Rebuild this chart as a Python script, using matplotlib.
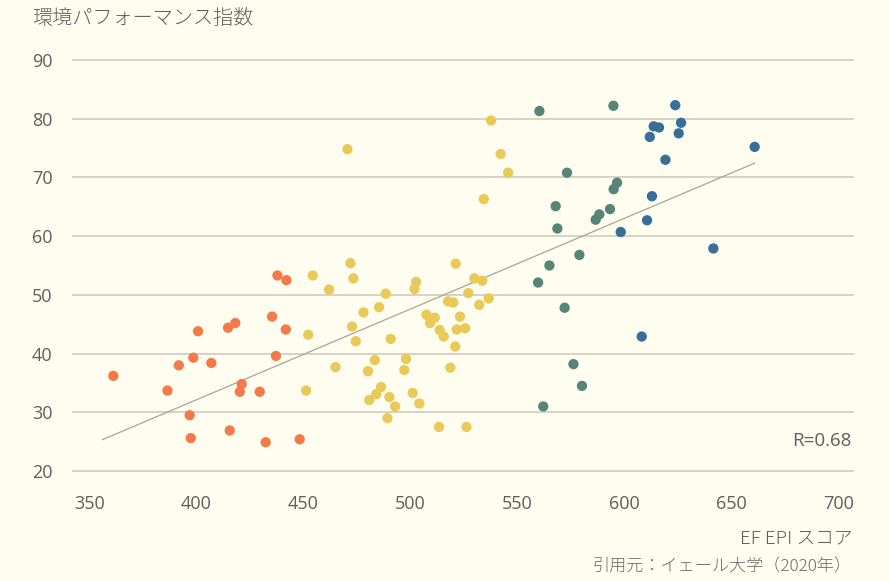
import numpy as np
import matplotlib.pyplot as plt

plt.rcParams['font.family'] = ['Noto Sans CJK JP', 'DejaVu Sans']

# 英語力スコア (EF EPI) と 環境パフォーマンス指数 (EPI)
orange_x = [361.1, 386.4, 391.7, 398.5, 400.7, 396.8, 397.3, 406.9, 414.7, 418.1,
            415.5, 421.1, 420.2, 429.5, 432.3, 435.3, 437.1, 441.7, 448.2, 437.8, 442.0]
orange_y = [36.2, 33.7, 38.0, 39.3, 43.8, 29.5, 25.6, 38.4, 44.4, 45.2,
            26.9, 34.8, 33.5, 33.5, 24.9, 46.3, 39.6, 44.1, 25.4, 53.3, 52.5]

yellow_x = [454.3, 461.9, 470.5, 471.9, 473.3, 488.4, 502.6, 501.8, 452.2, 451.2,
            464.9, 472.7, 474.4, 478.0, 485.3, 480.1, 483.3, 480.7, 484.0, 486.2,
            490.1, 492.8, 489.2, 490.7, 497.9, 497.1, 501.0, 504.1, 513.3, 507.4,
            509.1, 511.3, 513.6, 515.5, 517.5, 518.6, 520.0, 527.0, 532.1, 536.5,
            523.1, 521.6, 525.5, 520.9, 526.1, 537.6, 542.1, 545.6, 534.2, 521.1,
            529.8, 533.5]
yellow_y = [53.3, 50.9, 74.8, 55.4, 52.8, 50.2, 52.2, 51.0, 43.2, 33.7,
            37.7, 44.6, 42.1, 47.0, 47.9, 37.0, 38.9, 32.1, 33.1, 34.3,
            32.6, 31.0, 29.0, 42.5, 39.1, 37.2, 33.3, 31.5, 27.5, 46.6,
            45.2, 46.1, 44.0, 42.9, 48.9, 37.6, 48.7, 50.3, 48.3, 49.4,
            46.3, 44.1, 44.3, 41.2, 27.5, 79.7, 74.0, 70.8, 66.3, 55.3,
            52.8, 52.4]

teal_x = [560.2, 594.8, 573.1, 596.5, 594.9, 567.8, 568.6, 593.2, 588.2, 586.5,
          578.9, 564.9, 559.6, 572.0, 576.1, 580.1, 562.0]
teal_y = [81.3, 82.2, 70.8, 69.1, 68.0, 65.1, 61.3, 64.6, 63.7, 62.8,
          56.8, 55.0, 52.1, 47.8, 38.2, 34.5, 31.0]

blue_x = [623.7, 626.4, 613.6, 616.1, 625.3, 611.8, 619.1, 660.8, 612.8, 598.2,
          610.5, 641.5, 608.0]
blue_y = [82.3, 79.3, 78.7, 78.5, 77.5, 76.9, 73.0, 75.2, 66.8, 60.7,
          62.7, 57.9, 42.9]

y_ticks = [20, 30, 40, 50, 60, 70, 80, 90]
x_ticks = [350, 400, 450, 500, 550, 600, 650, 700]

bg = '#FFFDF0'
txt = '#5E5E5E'
fig = plt.figure(figsize=(8.89, 5.81), dpi=100, facecolor=bg)
ax = fig.add_axes([0.081, 0.1792, 0.8796, 0.7277], facecolor=bg)

groups = [
    (orange_x, orange_y, '#F47A4A'),
    (yellow_x, yellow_y, '#E9C957'),
    (teal_x, teal_y, '#578478'),
    (blue_x, blue_y, '#386E97'),
]
for gx, gy, c in groups:
    ax.scatter(gx, gy, s=55, color=c, edgecolors='none', zorder=3)

# 回帰直線
all_x = np.array(orange_x + yellow_x + teal_x + blue_x)
all_y = np.array(orange_y + yellow_y + teal_y + blue_y)
slope, intercept = np.polyfit(all_x, all_y, 1)
lx = np.array([356, all_x.max()])
ax.plot(lx, slope * lx + intercept, color='#A8A596', lw=0.9, zorder=2)

ax.set_xlim(341.8, 707.2)
ax.set_ylim(19, 91)
ax.set_xticks(x_ticks)
ax.set_yticks(y_ticks)
ax.yaxis.grid(True, color='#D3D0C2', lw=1.3)
ax.set_axisbelow(True)
for s in ax.spines.values():
    s.set_visible(False)
ax.tick_params(length=0, labelsize=13, labelcolor=txt)
ax.tick_params(axis='y', pad=14)
ax.tick_params(axis='x', pad=13)
for lab in ax.get_xticklabels() + ax.get_yticklabels():
    lab.set_family(['Open Sans', 'DejaVu Sans'])

fig.text(32 / 889, 1 - 18 / 581, '環境パフォーマンス指数', fontsize=14.5,
         color=txt, ha='left', va='center', fontweight='light')
fig.text(853 / 889, 1 - 538 / 581, 'EF EPI スコア', fontsize=13.5,
         color=txt, ha='right', va='center', fontweight='light')
fig.text(852 / 889, 1 - 567 / 581, '引用元：イェール大学（2020年）', fontsize=12.3,
         color='#6A6A6A', ha='right', va='center', fontweight='light')
fig.text(852 / 889, 1 - 441 / 581, 'R=0.68', fontsize=13.5,
         color=txt, ha='right', va='center', family=['Open Sans', 'DejaVu Sans'])

fig.savefig('out.png', dpi=100, facecolor=bg)
